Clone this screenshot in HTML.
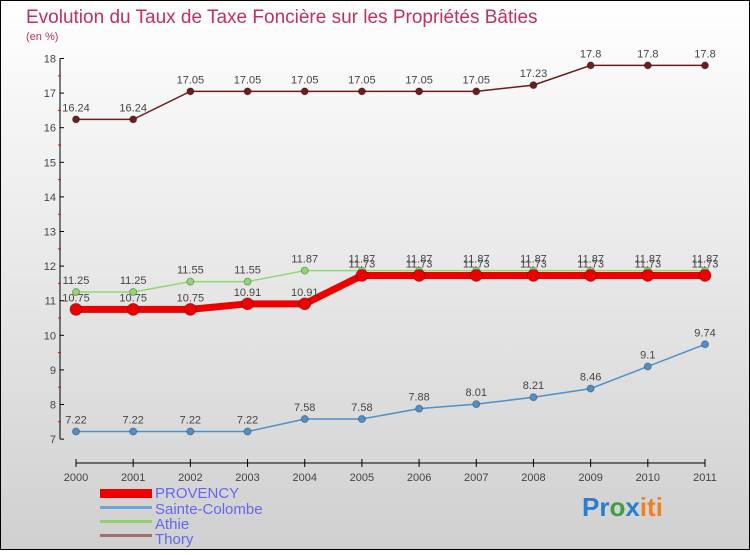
<!DOCTYPE html>
<html><head><meta charset="utf-8"><style>
html,body{margin:0;padding:0}
body{width:750px;height:550px;overflow:hidden;font-family:"Liberation Sans",sans-serif}
</style></head><body>
<svg id="c" width="750" height="550" xmlns="http://www.w3.org/2000/svg">
<defs><linearGradient id="bg" x1="0" y1="0" x2="0" y2="1"><stop offset="0" stop-color="#ffffff"/><stop offset="1" stop-color="#d0d0d0"/></linearGradient></defs>
<rect x="0.5" y="0.5" width="749" height="549" fill="url(#bg)" stroke="#000"/>
<text x="26" y="23" font-size="19" fill="#c03060">Evolution du Taux de Taxe Foncière sur les Propriétés Bâties</text>
<text x="26" y="40" font-size="11" fill="#c03060">(en %)</text>
<g id="axes"></g><g id="series"></g>
<g>
<rect x="100" y="489" width="52" height="9" fill="#e00"/>
<text x="155" y="498" font-size="15" fill="#6666ee">PROVENCY</text>
<rect x="100" y="506" width="52" height="3" fill="#6fa4d0"/>
<text x="155" y="514" font-size="15" fill="#6666ee">Sainte-Colombe</text>
<rect x="100" y="520" width="52" height="3" fill="#90d070"/>
<text x="155" y="529" font-size="15" fill="#6666ee">Athie</text>
<rect x="100" y="534" width="52" height="3" fill="#a07070"/>
<text x="155" y="544" font-size="15" fill="#6666ee">Thory</text>
</g>
<text x="582" y="516" font-size="26" font-weight="bold"><tspan fill="#2a7ed0">Pr</tspan><tspan fill="#40a040">o</tspan><tspan fill="#2a7ed0">x</tspan><tspan fill="#f08020">iti</tspan></text>
</svg>
<script>
const years=["2000","2001","2002","2003","2004","2005","2006","2007","2008","2009","2010","2011"];
const yTicks=[7,8,9,10,11,12,13,14,15,16,17,18];
const provency=[10.75,10.75,10.75,10.91,10.91,11.73,11.73,11.73,11.73,11.73,11.73,11.73];
const sainteColombe=[7.22,7.22,7.22,7.22,7.58,7.58,7.88,8.01,8.21,8.46,9.1,9.74];
const athie=[11.25,11.25,11.55,11.55,11.87,11.87,11.87,11.87,11.87,11.87,11.87,11.87];
const thory=[16.24,16.24,17.05,17.05,17.05,17.05,17.05,17.05,17.23,17.8,17.8,17.8];
const NS="http://www.w3.org/2000/svg";
const xs=i=>76+i*(629/11);
const ys=v=>58.5+(18-v)*34.6;
function mk(t,a,p){const e=document.createElementNS(NS,t);for(const k in a)e.setAttribute(k,a[k]);p.appendChild(e);return e;}
const ax=document.getElementById('axes');
const yl=mk('line',{x1:60,y1:ys(18),x2:60,y2:ys(7),stroke:'#000'},ax);


const xl=mk('line',{x1:76,y1:463,x2:705,y2:463,stroke:'#000'},ax);


yTicks.forEach((v,i)=>{
 mk('line',{x1:60,y1:ys(v),x2:64,y2:ys(v),stroke:'#000'},ax);
 if(i<yTicks.length-1)mk('line',{x1:58,y1:ys(v+0.5),x2:61,y2:ys(v+0.5),stroke:'#e00'},ax);
 const t=mk('text',{x:56,y:ys(v)+4,'font-size':11,'text-anchor':'end',fill:'#444'},ax);t.textContent=v;
 
 
});
years.forEach((y,i)=>{
 mk('line',{x1:xs(i),y1:459,x2:xs(i),y2:467,stroke:'#000'},ax);
 const t=mk('text',{x:xs(i),y:481,'font-size':11,'text-anchor':'middle',fill:'#444'},ax);t.textContent=y;
 
 
});
const sg=document.getElementById('series');
function draw(vals,color,w,r,name){
 const g=mk('g',{},sg);
 
 
 mk('polyline',{points:vals.map((v,i)=>xs(i)+','+ys(v)).join(' '),fill:'none',stroke:color,'stroke-width':w},g);
 vals.forEach((v,i)=>{
  const c=mk('circle',{cx:xs(i),cy:ys(v),r:r,fill:color,stroke:'rgba(0,0,0,0.3)'},g);
  
  
  const t=mk('text',{x:xs(i),y:ys(v)-8,'font-size':11,'text-anchor':'middle',fill:'#444'},g);t.textContent=v;
  
  
 });
}
draw(thory,'#6e1c1c',1.5,3.5,'thory');
draw(sainteColombe,'#4f90c8',1.5,3.5,'sainte-colombe');
draw(athie,'#90d870',1.5,3.5,'athie');
draw(provency,'#ee0000',7,6,'provency');
</script>
</body></html>
